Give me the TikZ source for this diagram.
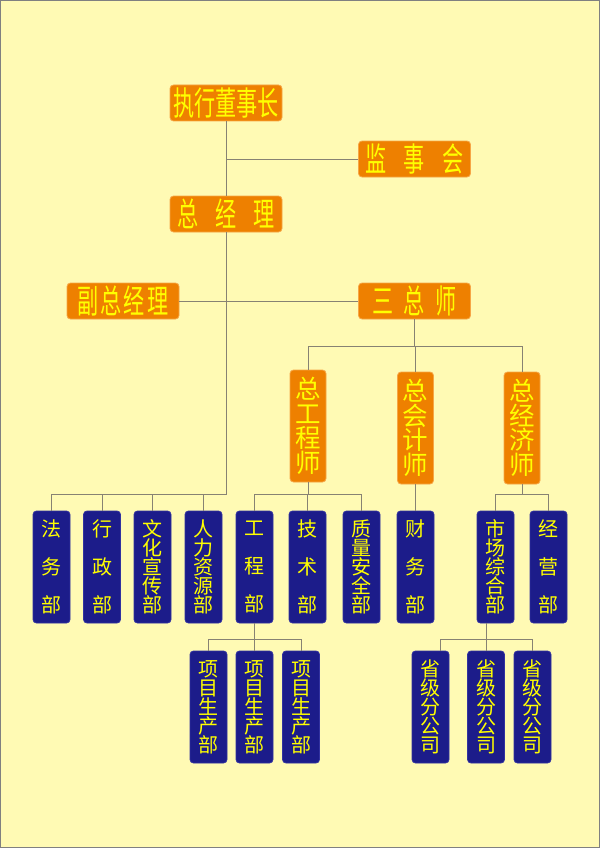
\documentclass[tikz,border=0pt]{standalone}
\usepackage{fontspec}
\setmainfont{Noto Sans CJK SC}
\newfontfamily\cjknarrow[FakeStretch=0.64]{Noto Sans CJK SC}
\definecolor{bgyellow}{RGB}{255,250,180}
\definecolor{boxorange}{RGB}{238,128,0}
\definecolor{edgeorange}{RGB}{246,165,70}
\definecolor{boxblue}{RGB}{28,28,138}
\definecolor{edgeblue}{RGB}{50,50,160}
\definecolor{txtyellow}{RGB}{255,255,0}
\definecolor{linegray}{RGB}{135,130,115}

\begin{document}
\begin{tikzpicture}[
    x=1pt, y=-1pt,
    mywide/.style={rectangle, rounded corners=3.5pt, draw=edgeorange, fill=boxorange, line width=0.8pt,
        minimum width=112pt, minimum height=36pt, inner sep=0pt, text=txtyellow,
        font=\cjknarrow\fontsize{33}{33}\selectfont},
    mytall/.style={rectangle, rounded corners=3.5pt, draw=edgeorange, fill=boxorange, line width=0.8pt,
        minimum width=36pt, minimum height=112pt, inner sep=0pt, text=txtyellow, align=center,
        font=\fontsize{25.5}{24.5}\selectfont},
    mydept/.style={rectangle, rounded corners=3.5pt, draw=edgeblue, fill=boxblue, line width=0.8pt,
        minimum width=37pt, minimum height=112pt, inner sep=0pt, text=txtyellow, align=center,
        font=\fontsize{20}{19}\selectfont},
    myline/.style={draw=linegray, line width=1pt}
]
    % background
    \useasboundingbox (0,0) rectangle (600,848);
    \draw[fill=bgyellow, draw=gray, line width=1pt] (0.5,0.5) rectangle (599.5,847.5);

    % top level
    \node[mywide] (chair) at (226,103) {执行董事长};
    \node[mywide] (sup) at (414.5,159) {监\hspace{17pt}事\hspace{17pt}会};
    \node[mywide] (gm) at (226,214) {总\hspace{17pt}经\hspace{17pt}理};
    \node[mywide] (vgm) at (123,301) {副\hspace{2pt}总\hspace{2pt}经\hspace{2pt}理};
    \node[mywide] (three) at (414.5,301) {三\hspace{10pt}总\hspace{10pt}师};

    % chief officers
    \node[mytall] (ce) at (308,426) {总\\工\\程\\师};
    \node[mytall] (ca) at (415.5,428) {总\\会\\计\\师};
    \node[mytall] (ec) at (522,428) {总\\经\\济\\师};

    % departments
    \node[mydept] (law) at (51.5,567) {法\\[19pt]务\\[19pt]部};
    \node[mydept] (adm) at (102,567) {行\\[19pt]政\\[19pt]部};
    \node[mydept] (cul) at (152.5,567) {文\\化\\宣\\传\\部};
    \node[mydept] (hr) at (203.5,567) {人\\力\\资\\源\\部};
    \node[mydept] (eng) at (254.5,567) {工\\[19pt]程\\[19pt]部};
    \node[mydept] (tech) at (307.5,567) {技\\[19pt]术\\[19pt]部};
    \node[mydept] (qs) at (361.5,567) {质\\量\\安\\全\\部};
    \node[mydept] (fin) at (415.5,567) {财\\[19pt]务\\[19pt]部};
    \node[mydept] (mkt) at (495.5,567) {市\\场\\综\\合\\部};
    \node[mydept] (biz) at (548.5,567) {经\\[19pt]营\\[19pt]部};

    % lower units
    \node[mydept] (pj1) at (208.5,707) {项\\目\\生\\产\\部};
    \node[mydept] (pj2) at (254.5,707) {项\\目\\生\\产\\部};
    \node[mydept] (pj3) at (301,707) {项\\目\\生\\产\\部};
    \node[mydept] (br1) at (430.5,707) {省\\级\\分\\公\\司};
    \node[mydept] (br2) at (486,707) {省\\级\\分\\公\\司};
    \node[mydept] (br3) at (532.5,707) {省\\级\\分\\公\\司};

    % connectors
    \coordinate (hub) at (226,494);
    \coordinate (tb) at (414.5,346);
    \coordinate (pb) at (254.5,639);
    \coordinate (bb) at (486,639);

    \draw[myline] (chair.south) -- (gm.north);
    \draw[myline] (sup.west) -- (sup.west -| chair.south);
    \draw[myline] (vgm.east) -- (three.west);
    \draw[myline] (gm.south) -- (hub) -- (hub -| law.north) -- (law.north);
    \foreach \n in {adm,cul,hr}
        \draw[myline] (hub -| \n.north) -- (\n.north);

    \draw[myline] (three.south) -- (tb);
    \draw[myline] (tb -| ce.north) -- (tb -| ec.north);
    \foreach \n in {ce,ca,ec}
        \draw[myline] (tb -| \n.north) -- (\n.north);

    \draw[myline] (ce.south) -- (ce.south |- hub);
    \draw[myline] (hub -| eng.north) -- (hub -| qs.north);
    \foreach \n in {eng,tech,qs}
        \draw[myline] (hub -| \n.north) -- (\n.north);
    \draw[myline] (ca.south) -- (fin.north);
    \draw[myline] (ec.south) -- (ec.south |- hub);
    \draw[myline] (hub -| mkt.north) -- (hub -| biz.north);
    \foreach \n in {mkt,biz}
        \draw[myline] (hub -| \n.north) -- (\n.north);

    \draw[myline] (eng.south) -- (pb);
    \draw[myline] (pb -| pj1.north) -- (pb -| pj3.north);
    \foreach \n in {pj1,pj2,pj3}
        \draw[myline] (pb -| \n.north) -- (\n.north);

    \draw[myline] (mkt.south -| bb) -- (bb);
    \draw[myline] ([xshift=9.5pt]br1.north |- bb) -- (bb -| br3.north);
    \draw[myline] ([xshift=9.5pt]br1.north |- bb) -- ([xshift=9.5pt]br1.north);
    \foreach \n in {br2,br3}
        \draw[myline] (bb -| \n.north) -- (\n.north);
\end{tikzpicture}
\end{document}
